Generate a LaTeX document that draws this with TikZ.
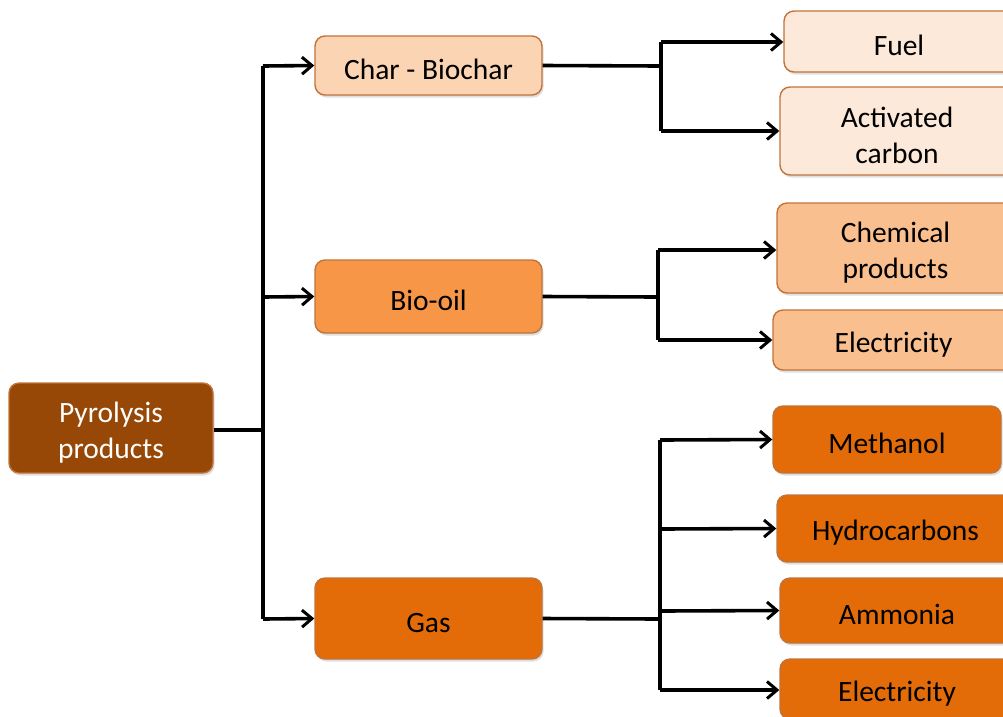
\documentclass[tikz,border=0pt]{standalone}
\usepackage{fontspec}
\setmainfont{Carlito}
\usetikzlibrary{arrows.meta,shadows}
\definecolor{dkbrown}{HTML}{974806}
\definecolor{lt80}{HTML}{FDE9D9}
\definecolor{lt60}{HTML}{FBD4B4}
\definecolor{lt40}{HTML}{FABF8F}
\definecolor{acc}{HTML}{F79646}
\definecolor{dk25}{HTML}{E36C09}
\definecolor{bord}{HTML}{C0733A}
\newcommand{\lowr}{\rule{0pt}{29pt}}
\tikzset{
  box/.style={draw=bord, line width=1.4pt, rounded corners=10pt, align=center,
    inner sep=0pt, font=\fontsize{29.5}{36}\selectfont,
    drop shadow={shadow xshift=1.5pt, shadow yshift=-2.5pt, opacity=0.25}},
  conn/.style={line width=3.6pt, draw=black},
  arr/.style={conn, -{Straight Barb[length=10pt,width=17pt,line width=3pt]}},
}
\begin{document}
\begin{tikzpicture}[x=1pt,y=-1pt]
\useasboundingbox (0,0) rectangle (1003,716);
\clip (0,0) rectangle (1003,716);
% nodes
\node[box, fill=dkbrown, text=white, minimum width=204pt, minimum height=90pt] (pyro) at (111,428) {\lowr Pyrolysis\\products};
\node[box, fill=lt60, minimum width=227pt, minimum height=59pt] (char) at (428.5,65.5) {\lowr Char - Biochar};
\node[box, fill=acc, minimum width=227pt, minimum height=73pt] (oil) at (428.5,296.5) {\lowr Bio-oil};
\node[box, fill=dk25, minimum width=227pt, minimum height=81pt] (gas) at (428.5,618.5) {\lowr Gas};
\node[box, fill=lt80, minimum width=230pt, minimum height=61pt] (fuel) at (899,41.5) {\lowr Fuel};
\node[box, fill=lt80, minimum width=234pt, minimum height=88pt] (act) at (897,131) {\lowr Activated\\carbon};
\node[box, fill=lt40, minimum width=237pt, minimum height=90pt] (chem) at (895.5,248) {\lowr Chemical\\products};
\node[box, fill=lt40, minimum width=241pt, minimum height=60pt] (elec1) at (893.5,340) {\lowr Electricity};
\node[box, fill=dk25, minimum width=228pt, minimum height=67pt] (meth) at (887,439.5) {\lowr Methanol};
\node[box, fill=dk25, minimum width=237pt, minimum height=67pt] (hydro) at (895.5,528.5) {\lowr Hydrocarbons};
\node[box, fill=dk25, minimum width=234pt, minimum height=65pt] (amm) at (897,610.5) {\lowr Ammonia};
\node[box, fill=dk25, minimum width=234pt, minimum height=60pt] (elec2) at (897,689) {\lowr Electricity};
% trunk coordinates
\coordinate (t0) at (263,430);
\coordinate (t1) at (661,66);
\coordinate (t2) at (658,297);
\coordinate (t3) at (660,619);
% main trunk
\draw[conn] (pyro.east |- t0) -- (t0);
\draw[conn] (263,66) -- (263,619);
\draw[arr] (263,66) -- (char.west);
\draw[arr] (263,297) -- (oil.west);
\draw[arr] (263,619) -- (gas.west);
% char branch
\draw[conn] (char.east) -- (t1);
\draw[conn] (661,42) -- (661,131);
\draw[arr] (661,42) -- (fuel.west |- 0,42);
\draw[arr] (661,131) -- (act.west);
% oil branch
\draw[conn] (oil.east) -- (t2);
\draw[conn] (658,250) -- (658,340);
\draw[arr] (658,250) -- (chem.west |- 0,250);
\draw[arr] (658,340) -- (elec1.west);
% gas branch
\draw[conn] (gas.east) -- (t3);
\draw[conn] (660,440) -- (660,690);
\draw[arr] (660,440) -- (meth.west);
\draw[arr] (660,529) -- (hydro.west);
\draw[arr] (660,611) -- (amm.west);
\draw[arr] (660,690) -- (elec2.west |- 0,690);
\end{tikzpicture}
\end{document}
